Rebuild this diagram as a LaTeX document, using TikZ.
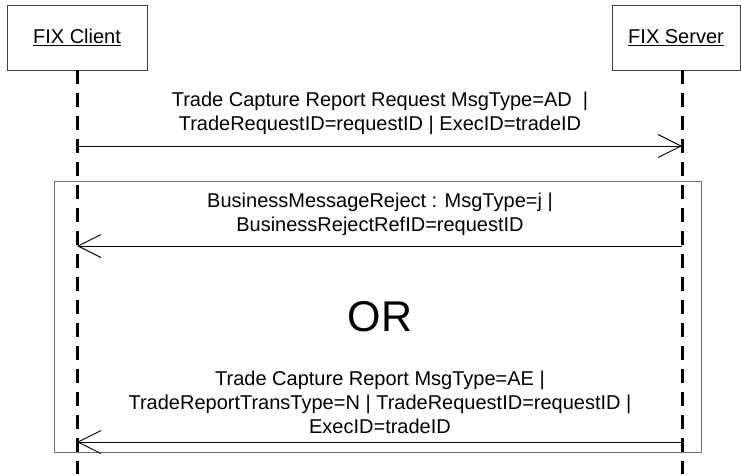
\documentclass[tikz,border=0pt]{standalone}
\usepackage{fontspec}
\setmainfont{Liberation Sans}
\usetikzlibrary{arrows.meta}
\begin{document}
\begin{tikzpicture}[x=1pt,y=-1pt,
  actor/.style={draw=black!75, line width=0.9pt, minimum height=65pt,
    inner sep=0pt, font=\fontsize{20}{24}\selectfont},
  lifeline/.style={line width=3pt, dash pattern=on 14pt off 9pt},
  msg/.style={line width=0.9pt,
    -{Straight Barb[length=23pt,width=23pt,line width=0.9pt]}},
  msgtext/.style={align=center, inner sep=0pt,
    font=\fontsize{20}{24}\selectfont},
  altframe/.style={draw=black!55, line width=1pt}]
\useasboundingbox (0,0) rectangle (741,474);

% participants
\node[actor, minimum width=140pt] (client) at (77,37.5) {\underline{FIX Client}};
\node[actor, minimum width=128pt] (server) at (676,37.5) {\underline{FIX Server}};

% lifeline ends
\coordinate (ctop) at (77,70);
\coordinate (cbot) at (77,474);
\coordinate (stop) at (682,70);
\coordinate (sbot) at (682,474);

% alternative frame
\node[altframe, minimum width=647pt, minimum height=271pt, inner sep=0pt]
  (alt) at (377.5,316.5) {};

\draw[lifeline] (ctop) -- (cbot);
\draw[lifeline] (stop) -- (sbot);

% message anchor points on the lifelines
\coordinate (m1c) at (77,146);
\coordinate (m1s) at (682,146);
\coordinate (m2c) at (77,246);
\coordinate (m2s) at (682,246);
\coordinate (m3c) at (77,442);
\coordinate (m3s) at (682,442);

\draw[msg] (m1c) -- (m1s);
\draw[msg] (m2s) -- (m2c);
\draw[msg] (m3s) -- (m3c);

\node[msgtext] (t1) at (380,113)
  {Trade Capture Report Request MsgType=AD\ \ |\\
   TradeRequestID=requestID | ExecID=tradeID};
\node[msgtext] (t2) at (380,214.5)
  {BusinessMessageReject : MsgType=j |\\
   BusinessRejectRefID=requestID};
\node[inner sep=0pt, font=\fontsize{43}{48}\selectfont] (or) at (380,317) {OR};
\node[msgtext] (t3) at (380,402)
  {Trade Capture Report MsgType=AE |\\
   TradeReportTransType=N | TradeRequestID=requestID |\\
   ExecID=tradeID};
\end{tikzpicture}
\end{document}
